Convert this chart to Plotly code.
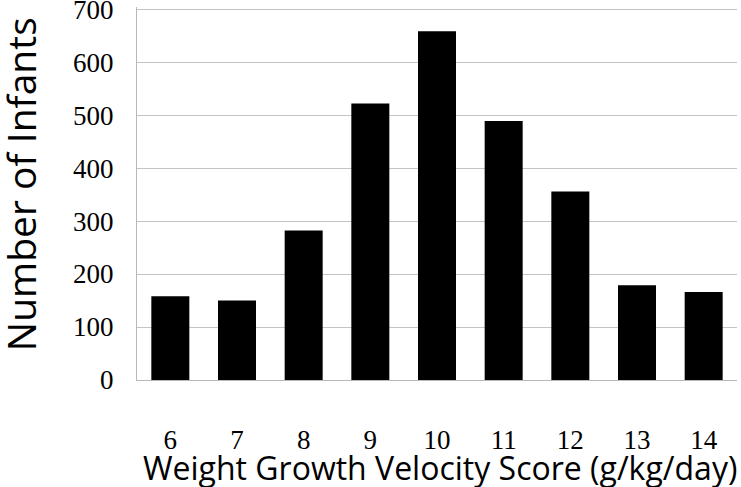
import plotly.graph_objects as go

scores = ["6", "7", "8", "9", "10", "11", "12", "13", "14"]
infants = [158, 150, 282, 522, 658, 489, 356, 179, 166]
y_ticks = [0, 100, 200, 300, 400, 500, 600, 700]

serif = "Liberation Serif, Times New Roman, serif"
sans = "Open Sans, sans-serif"

fig = go.Figure()
fig.add_trace(go.Bar(
    x=scores, y=infants,
    marker=dict(color="black", line=dict(width=0)),
))

fig.update_layout(
    width=741, height=487,
    margin=dict(l=137, r=4, t=7, b=107),
    plot_bgcolor="white", paper_bgcolor="white",
    bargap=0.43,
    showlegend=False,
    xaxis=dict(
        type="category", automargin=False,
        showline=True, linecolor="#b8b8b8", linewidth=1,
        showgrid=False, ticks="",
        tickfont=dict(family=serif, size=27, color="black"),
        ticklabelstandoff=36,
    ),
    yaxis=dict(
        range=[0, 704], tickvals=y_ticks, automargin=False,
        showline=True, linecolor="#b8b8b8", linewidth=1,
        showgrid=True, gridcolor="#c4c4c4", gridwidth=1,
        zeroline=False, ticks="",
        tickfont=dict(family=serif, size=27, color="black"),
        ticklabelstandoff=17, ticklabeloverflow="allow",
    ),
    annotations=[
        dict(text="Weight Growth Velocity Score (g/kg/day)",
             xref="paper", yref="paper", x=0.505, y=-0.2345,
             xanchor="center", yanchor="middle", showarrow=False,
             font=dict(family=sans, size=32, color="black")),
        dict(text="Number of Infants", textangle=-90,
             xref="paper", yref="paper", x=-0.195, y=0.525,
             xanchor="center", yanchor="middle", showarrow=False,
             font=dict(family=sans, size=39, color="black")),
    ],
)

# drop the default page margin so the figure sits at the window's corner
fig.write_html("out.html", config={"displayModeBar": False},
               post_script="document.body.style.margin='0';")
